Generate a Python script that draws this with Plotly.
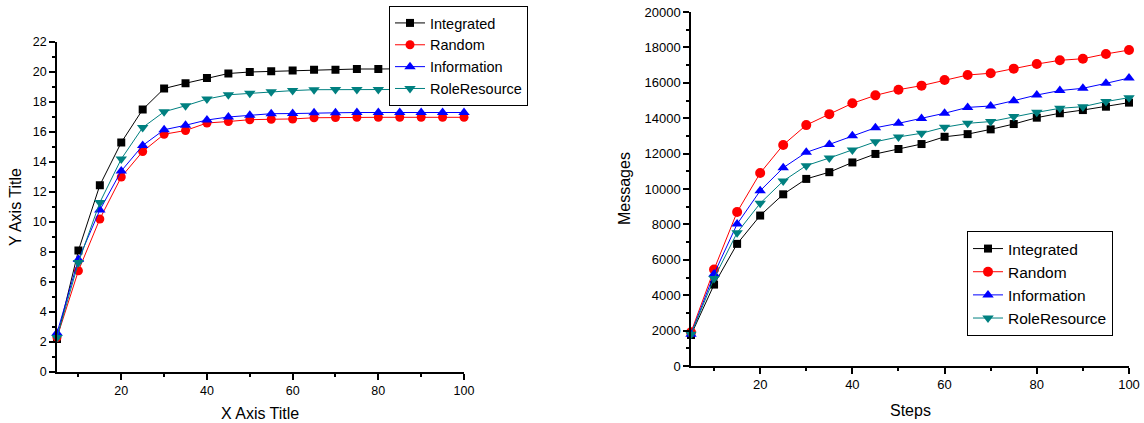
import plotly.graph_objects as go

steps = [5, 10, 15, 20, 25, 30, 35, 40, 45, 50, 55, 60, 65, 70, 75, 80, 85, 90, 95, 100]
series_names = ["Integrated", "Random", "Information", "RoleResource"]

# Left chart (Y Axis Title)
left_integrated = [2.2, 8.1, 12.45, 15.3, 17.5, 18.9, 19.25, 19.6, 19.9, 20.0, 20.05, 20.1,
                   20.15, 20.15, 20.2, 20.2, 20.2, 20.25, 20.25, 20.25]
left_random = [2.3, 6.75, 10.2, 13.0, 14.7, 15.85, 16.1, 16.6, 16.7, 16.82, 16.85, 16.87,
               16.95, 16.97, 16.98, 16.98, 16.98, 16.98, 16.98, 16.98]
left_information = [2.6, 7.5, 10.8, 13.4, 15.1, 16.15, 16.45, 16.8, 17.0, 17.12, 17.22, 17.23,
                    17.28, 17.28, 17.3, 17.3, 17.3, 17.3, 17.3, 17.3]
left_roleresource = [2.3, 7.3, 11.3, 14.2, 16.3, 17.35, 17.75, 18.2, 18.48, 18.58, 18.68, 18.76,
                     18.82, 18.83, 18.83, 18.84, 18.84, 18.84, 18.84, 18.84]

# Right chart (Messages)
right_integrated = [1750, 4600, 6900, 8500, 9700, 10570, 10950, 11500, 11980, 12260, 12540, 12950,
                    13100, 13370, 13670, 14030, 14280, 14460, 14650, 14880]
right_random = [1900, 5450, 8700, 10900, 12490, 13610, 14230, 14840, 15290, 15610, 15840, 16160,
                16440, 16540, 16800, 17060, 17270, 17360, 17630, 17850]
right_information = [1800, 5200, 8020, 9900, 11200, 12070, 12520, 13010, 13460, 13710, 13990, 14280,
                     14610, 14690, 14990, 15310, 15560, 15690, 15970, 16270]
right_roleresource = [1800, 4950, 7530, 9190, 10450, 11320, 11750, 12200, 12670, 12940, 13150, 13490,
                      13710, 13810, 14090, 14330, 14560, 14650, 14940, 15160]

colors = ["#000000", "#ff0000", "#0000ff", "#008080"]
symbols = ["square", "circle", "triangle-up", "triangle-down"]
left_sizes = [8, 9, 10, 10]
right_sizes = [8, 10, 10, 10]

FONT = "Liberation Sans, Arial, sans-serif"

fig = go.Figure()

left_data = [left_integrated, left_random, left_information, left_roleresource]
right_data = [right_integrated, right_random, right_information, right_roleresource]

for name, vals, c, s, sz in zip(series_names, left_data, colors, symbols, left_sizes):
    fig.add_trace(go.Scatter(
        x=steps, y=vals, name=name, mode="lines+markers",
        line=dict(color=c, width=1), marker=dict(color=c, symbol=s, size=sz),
        xaxis="x", yaxis="y", legend="legend", cliponaxis=False))

for name, vals, c, s, sz in zip(series_names, right_data, colors, symbols, right_sizes):
    fig.add_trace(go.Scatter(
        x=steps, y=vals, name=name, mode="lines+markers",
        line=dict(color=c, width=1), marker=dict(color=c, symbol=s, size=sz),
        xaxis="x2", yaxis="y2", legend="legend2", cliponaxis=False))

W, H = 1144, 423

def axis_common(size):
    return dict(showline=True, linecolor="black", linewidth=1.5, mirror=False,
                showgrid=False, zeroline=False, ticks="outside", ticklen=6,
                tickwidth=1.5, tickcolor="black", automargin=False, tickformat="d",
                tickfont=dict(family=FONT, size=size, color="black"),
                minor=dict(ticks="outside", ticklen=3, tickwidth=1.5, tickcolor="black"))

fig.update_layout(
    width=W, height=H,
    margin=dict(l=0, r=0, t=0, b=0, autoexpand=False),
    paper_bgcolor="white", plot_bgcolor="white",
    font=dict(family=FONT, color="black"),
    xaxis=dict(domain=[57 / W, 464 / W], range=[5, 100], tick0=0, dtick=20,
               anchor="y", **axis_common(12.5)),
    yaxis=dict(domain=[(H - 372) / H, (H - 42) / H], range=[0, 22], tick0=0, dtick=2,
               anchor="x", **axis_common(12.5)),
    xaxis2=dict(domain=[691 / W, 1129 / W], range=[5, 100], tick0=0, dtick=20,
                anchor="y2", **axis_common(13)),
    yaxis2=dict(domain=[(H - 366) / H, (H - 12) / H], range=[0, 20000], tick0=0, dtick=2000,
                anchor="x2", **axis_common(13)),
    legend=dict(x=389 / W, y=(H - 6) / H, xanchor="left", yanchor="top",
                bgcolor="white", bordercolor="black", borderwidth=1,
                font=dict(family=FONT, size=14.5, color="black"),
                tracegroupgap=0),
    legend2=dict(x=967 / W, y=(H - 231) / H, xanchor="left", yanchor="top",
                 bgcolor="white", bordercolor="black", borderwidth=1,
                 font=dict(family=FONT, size=15.5, color="black"),
                 tracegroupgap=0),
)

fig.update_layout(xaxis_minor_dtick=10, xaxis2_minor_dtick=10,
                  yaxis_minor_dtick=1, yaxis2_minor_dtick=1000)

annots = [
    dict(text="X Axis Title", x=260 / W, y=(H - 413) / H, textangle=0, size=16),
    dict(text="Y Axis Title", x=15 / W, y=(H - 207) / H, textangle=-90, size=16),
    dict(text="Steps", x=910 / W, y=(H - 410) / H, textangle=0, size=16),
    dict(text="Messages", x=624 / W, y=(H - 189) / H, textangle=-90, size=16),
]
for a in annots:
    fig.add_annotation(text=a["text"], x=a["x"], y=a["y"], xref="paper", yref="paper",
                       xanchor="center", yanchor="middle", showarrow=False,
                       textangle=a["textangle"],
                       font=dict(family=FONT, size=a["size"], color="black"))

fig.write_html("out.html", config={"displayModeBar": False},
               post_script="document.body.style.margin='0';document.body.style.overflow='hidden';")
